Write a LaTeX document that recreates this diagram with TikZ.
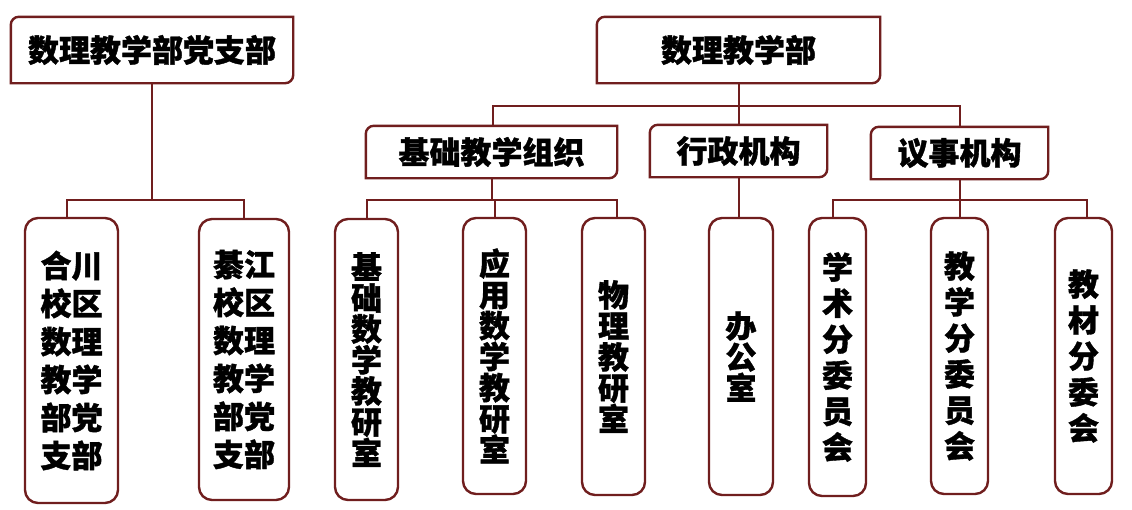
\documentclass[tikz,border=0pt]{standalone}
\usepackage{fontspec}
\newfontfamily\cjk{Noto Sans CJK SC}[BoldFeatures={FakeBold=1.2}]
\definecolor{frame}{RGB}{112,30,30}
\tikzset{
  x=1pt,y=1pt,
  topbox/.style={draw=none,inner sep=0pt,font=\cjk\bfseries\fontsize{31}{33}\selectfont},
  leaf/.style={draw=frame,line width=2.4pt,rounded corners=13pt,inner sep=0pt,align=center},
  vtext/.style={font=\cjk\bfseries\fontsize{31}{31}\selectfont},
  vtextwide/.style={font=\cjk\bfseries\fontsize{31}{36}\selectfont},
  twocol/.style={font=\cjk\bfseries\fontsize{31}{38}\selectfont},
  conn/.style={draw=frame,line width=2pt},
  framepath/.style={draw=frame,line width=2.4pt}
}
\newcommand\tlbrframe[1]{%
  \draw[framepath] (#1.south west) -- ([yshift=-8pt]#1.north west)
    arc[start angle=180,end angle=90,radius=8pt] -- (#1.north east)
    -- ([yshift=8pt]#1.south east) arc[start angle=0,end angle=-90,radius=8pt] -- cycle;}
\begin{document}
\begin{tikzpicture}
\useasboundingbox[fill=white] (0,0) rectangle (1132,-509);
% top level
\node[topbox,minimum width=282,minimum height=66] (A) at (152,-50) {数理教学部党支部};
\node[topbox,minimum width=283,minimum height=66] (B) at (738.5,-50) {数理教学部};
\tlbrframe{A}\tlbrframe{B}
% second level
\node[topbox,minimum width=251,minimum height=52] (C1) at (491.5,-152) {基础教学组织};
\node[topbox,minimum width=177,minimum height=52] (C2) at (738.5,-151) {行政机构};
\node[topbox,minimum width=177,minimum height=52] (C3) at (959.5,-153) {议事机构};
\tlbrframe{C1}\tlbrframe{C2}\tlbrframe{C3}
% leaves
\node[leaf,twocol,minimum width=93,minimum height=285] (L1) at (71.5,-360.5) {合川\\校区\\数理\\教学\\部党\\支部};
\node[leaf,twocol,minimum width=90,minimum height=281] (L2) at (244,-359.5) {綦江\\校区\\数理\\教学\\部党\\支部};
\node[leaf,vtext,minimum width=63,minimum height=281] (L3) at (366.5,-359.5) {基\\础\\数\\学\\教\\研\\室};
\node[leaf,vtext,minimum width=63,minimum height=276] (L4) at (494.5,-356) {应\\用\\数\\学\\教\\研\\室};
\node[leaf,vtext,minimum width=63,minimum height=277] (L5) at (613.5,-356.5) {物\\理\\教\\研\\室};
\node[leaf,vtext,minimum width=64,minimum height=277] (L6) at (741,-356.5) {办\\公\\室};
\node[leaf,vtextwide,minimum width=57,minimum height=278] (L7) at (837.5,-357) {学\\术\\分\\委\\员\\会};
\node[leaf,vtextwide,minimum width=57,minimum height=276] (L8) at (959.5,-356) {教\\学\\分\\委\\员\\会};
\node[leaf,vtextwide,minimum width=57,minimum height=276] (L9) at (1083.5,-356) {教\\材\\分\\委\\会};
% buses
\coordinate (bA) at (152,-200);
\coordinate (bB) at (738.5,-106);
\coordinate (bC1) at (491.5,-200);
\coordinate (bC3) at (959.5,-200);
% connectors
\draw[conn] (A.south) -- (bA);
\draw[conn] ([xshift=-4.5pt]L1.north) |- (bA);
\draw[conn] (L2.north) |- (bA);
\draw[conn] (B.south) -- (bB);
\draw[conn] ([xshift=1.5pt]C1.north) |- (bB);
\draw[conn] (C2.north) -- (bB);
\draw[conn] (C3.north) |- (bB);
\draw[conn] (C1.south) -- (bC1);
\draw[conn] (L3.north) |- (bC1);
\draw[conn] (L4.north) -- (L4.north |- bC1);
\draw[conn] ([xshift=3.5pt]L5.north) |- (bC1);
\draw[conn] (C2.south) -- (L6.north -| C2.south);
\draw[conn] (C3.south) -- (bC3);
\draw[conn] ([xshift=-4.5pt]L7.north) |- (bC3);
\draw[conn] (L8.north) -- (bC3);
\draw[conn] ([xshift=3.5pt]L9.north) |- (bC3);
\end{tikzpicture}
\end{document}
